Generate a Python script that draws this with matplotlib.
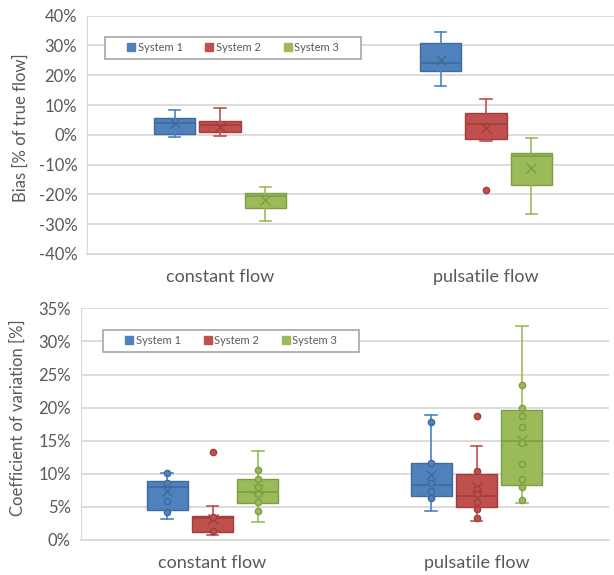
import matplotlib.pyplot as plt
from matplotlib.lines import Line2D
from matplotlib.patches import Rectangle

plt.rcParams['font.family'] = ['Lato', 'DejaVu Sans']

categories = ["constant flow", "pulsatile flow"]
systems = ["System 1", "System 2", "System 3"]
colors = ["#4F81BD", "#C0504D", "#9BBB59"]
edges = ["#3F6A9C", "#A13D3A", "#7F9C45"]

# bias [% of true flow], one list per system, values for (constant, pulsatile)
bias_lo = [[-0.7, 16.4], [-0.5, -1.9], [-28.9, -26.6]]
bias_q1 = [[0.2, 21.5], [0.9, -1.4], [-24.7, -16.7]]
bias_med = [[3.9, 24.0], [3.2, 3.8], [-20.5, -7.1]]
bias_q3 = [[5.8, 30.7], [4.6, 7.2], [-19.5, -6.0]]
bias_hi = [[8.3, 34.5], [9.0, 12.2], [-17.5, -1.1]]
bias_mean = [[3.9, 25.2], [2.8, 2.2], [-22.0, -11.0]]
bias_fliers = [[[], []], [[], [-18.6]], [[], []]]

# coefficient of variation [%]
cv_lo = [[3.2, 4.4], [0.7, 2.9], [2.7, 5.6]]
cv_q1 = [[4.5, 6.7], [1.2, 5.0], [5.6, 8.3]]
cv_med = [[8.0, 8.3], [3.3, 6.7], [7.2, 15.0]]
cv_q3 = [[8.9, 11.7], [3.6, 9.9], [9.2, 19.7]]
cv_hi = [[10.1, 18.9], [5.1, 14.2], [13.4, 32.4]]
cv_mean = [[7.4, 9.8], [3.2, 8.0], [7.7, 15.1]]
cv_fliers = [[[], []], [[13.3], [18.7]], [[], []]]
cv_points = [
    [[10.1, 8.6, 5.9, 4.2], [17.9, 11.7, 8.6, 7.4, 6.4]],
    [[3.4, 1.4], [10.4, 7.7, 6.9, 5.7, 4.7, 3.3]],
    [[10.5, 9.2, 8.0, 6.9, 5.7, 4.4],
     [23.4, 20.0, 18.7, 17.0, 14.7, 11.5, 9.2, 8.0, 6.0]],
]

text_col = "#595959"
grid_col = "#D9D9D9"
offsets = [-0.171, 0, 0.171]
box_w = 0.156


def draw_panel(ax, lo, q1, med, q3, hi, mean, fliers, points, ylim, step, ylabel):
    for i in range(3):
        stats = []
        for j in range(2):
            stats.append(dict(whislo=lo[i][j], q1=q1[i][j], med=med[i][j], q3=q3[i][j],
                              whishi=hi[i][j], mean=mean[i][j], fliers=fliers[i][j]))
        pos = [j + 1 + offsets[i] for j in range(2)]
        ax.bxp(stats, positions=pos, widths=box_w, patch_artist=True, showmeans=True,
               capwidths=0.045, manage_ticks=False,
               boxprops=dict(facecolor=colors[i], edgecolor=edges[i], linewidth=1),
               whiskerprops=dict(color=colors[i], linewidth=1.2),
               capprops=dict(color=colors[i], linewidth=1.2),
               medianprops=dict(color=edges[i], linewidth=1.2),
               meanprops=dict(marker='x', markeredgecolor=edges[i], markersize=7,
                              markeredgewidth=1),
               flierprops=dict(marker='o', markerfacecolor=colors[i], markeredgecolor=edges[i],
                               markersize=4.5, linestyle='none'))
        if points is not None:
            for j in range(2):
                ax.plot([pos[j]] * len(points[i][j]), points[i][j], 'o', color=colors[i],
                        markeredgecolor=edges[i], markersize=4.5, zorder=4)

    ax.set_xlim(0.5, 2.5)
    ax.set_ylim(*ylim)
    ticks = []
    v = ylim[0]
    while v <= ylim[1] + 1e-9:
        ticks.append(v)
        v += step
    ax.set_yticks(ticks)
    ax.set_yticklabels([f"{t:.0f}%" for t in ticks])
    ax.set_xticks([1, 2])
    ax.set_xticklabels(categories)
    ax.tick_params(length=0, colors=text_col, labelsize=12)
    ax.tick_params(axis='y', pad=7)
    ax.tick_params(axis='x', pad=11, labelsize=13)
    ax.grid(axis='y', color=grid_col, linewidth=1.3)
    ax.set_axisbelow(True)
    for s in ['top', 'right']:
        ax.spines[s].set_visible(False)
    ax.spines['left'].set_color(grid_col)
    ax.spines['bottom'].set_color(grid_col)
    ax.spines['bottom'].set_linewidth(1.3)
    ax.set_ylabel(ylabel, color=text_col, fontsize=12)


fig = plt.figure(figsize=(6.14, 5.75), dpi=100)
ax1 = fig.add_axes([87 / 614, 321 / 575, 532 / 614, 238.3 / 575])
ax2 = fig.add_axes([80.5 / 614, 35 / 575, 528 / 614, 231.7 / 575])

draw_panel(ax1, bias_lo, bias_q1, bias_med, bias_q3, bias_hi, bias_mean, bias_fliers, None,
           (-40, 40), 10, "Bias [% of true flow]")
draw_panel(ax2, cv_lo, cv_q1, cv_med, cv_q3, cv_hi, cv_mean, cv_fliers, cv_points,
           (0, 35), 5, "Coefficient of variation [%]")
ax1.yaxis.set_label_coords(-0.110, 0.53)
ax2.yaxis.set_label_coords(-0.1035, 0.53)

handles = [Line2D([], [], marker='s', linestyle='none', markerfacecolor=c, markeredgecolor=c,
                  markersize=5.5) for c in colors]
for ax, box in [(ax1, (0.0338, 0.818, 0.481, 0.094)), (ax2, (0.0426, 0.813, 0.485, 0.093))]:
    ax.add_patch(Rectangle(box[:2], box[2], box[3], transform=ax.transAxes, facecolor='white',
                           edgecolor="#A6A6A6", linewidth=1.2, zorder=5))
    leg = ax.legend(handles, systems, ncol=3, loc='center',
                    bbox_to_anchor=(box[0] + box[2] / 2, box[1] + box[3] / 2),
                    fontsize=8, frameon=False, borderaxespad=0, columnspacing=2.0,
                    handletextpad=0.2, handlelength=0.8, labelcolor=text_col)
    leg.set_zorder(6)

fig.savefig("out.png", dpi=100)
